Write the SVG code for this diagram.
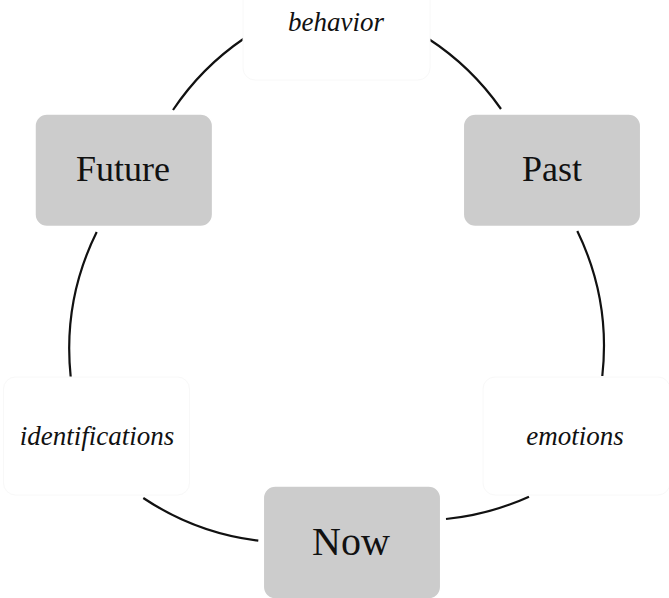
<svg xmlns="http://www.w3.org/2000/svg" width="669" height="598" viewBox="0 0 669 598">
  <style>
    .main { fill: #cccccc; stroke: #ffffff; stroke-width: 1.5; }
    .lbl { fill: #ffffff; stroke: #f8f8f8; stroke-width: 1; }
    .tmain { font-family: "Liberation Serif", "Times New Roman", serif; font-size: 36px; fill: #111111; text-anchor: middle; }
    .tlbl { font-family: "Liberation Serif", "Times New Roman", serif; font-style: italic; font-size: 27px; fill: #111111; text-anchor: middle; }
    .arc { fill: none; stroke: #111111; stroke-width: 2.2; }
  </style>
  <rect width="669" height="598" fill="#ffffff"/>
  <g id="connectors">
    <path class="arc" d="M173,110 A265,265 0 0 1 244,38.5"/>
    <path class="arc" d="M428,38.5 A265,265 0 0 1 501,109"/>
    <path class="arc" d="M577.3,231 A265,265 0 0 1 602.3,376"/>
    <path class="arc" d="M529,496.7 A265,265 0 0 1 446,519"/>
    <path class="arc" d="M258.3,540.7 A265,265 0 0 1 143.3,498"/>
    <path class="arc" d="M70.7,377 A265,265 0 0 1 96.7,232"/>
  </g>
  <g id="node-behavior">
    <rect class="lbl" x="243" y="-38" width="187" height="118" rx="12"/>
    <text class="tlbl" x="336" y="31">behavior</text>
  </g>
  <g id="node-past">
    <rect class="main" x="463.3" y="114" width="177.4" height="112.6" rx="12"/>
    <text class="tmain" x="552" y="181">Past</text>
  </g>
  <g id="node-emotions">
    <rect class="lbl" x="483" y="377" width="187" height="118" rx="12"/>
    <text class="tlbl" x="575" y="445">emotions</text>
  </g>
  <g id="node-now">
    <rect class="main" x="263.3" y="486" width="177.4" height="113" rx="12"/>
    <text class="tmain" x="351" y="555" style="font-size:40px">Now</text>
  </g>
  <g id="node-identifications">
    <rect class="lbl" x="3.5" y="377" width="186" height="118" rx="12"/>
    <text class="tlbl" x="97" y="445">identifications</text>
  </g>
  <g id="node-future">
    <rect class="main" x="35" y="114" width="177.6" height="112.6" rx="12"/>
    <text class="tmain" x="123" y="181">Future</text>
  </g>
</svg>
